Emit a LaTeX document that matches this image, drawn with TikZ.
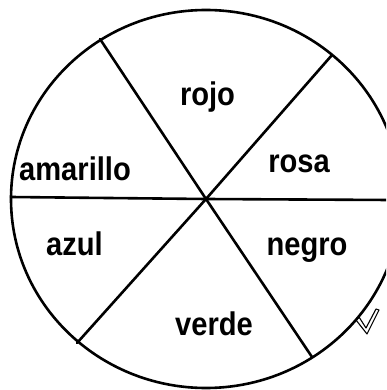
\documentclass[tikz,border=0pt]{standalone}
\usepackage{fontspec}
\usepackage{graphicx}
\setmainfont{Liberation Sans}
\newcommand{\tallword}[1]{\scalebox{1.04}[1.17]{#1}}
\tikzset{
  stroke/.style={line width=2.6pt, line cap=round},
  lbl/.style={anchor=base, inner sep=0pt, font=\fontsize{28}{28}\selectfont\bfseries},
  tick/.style={line width=1.1pt, line join=round}
}
\begin{document}
\begin{tikzpicture}[x=1pt,y=-1pt]
\useasboundingbox (0,0) rectangle (386,390);
\clip (0,0) rectangle (386,390);
\coordinate (c) at (206,199);
\coordinate (ul) at (100,39);
\coordinate (lr) at (312,357);
\coordinate (ur) at (332,55);
\coordinate (ll) at (77,343);
\coordinate (hl) at (11,197);
\coordinate (hr) at (390,200);
\draw[stroke] (c) ellipse [x radius=195, y radius=189];
\draw[stroke] (ul) -- (c) -- (lr);
\draw[stroke] (ur) -- (c) -- (ll);
\draw[stroke] (hl) -- (c) -- (hr);
\node[lbl] (rojo) at (207.5,106) {\tallword{rojo}};
\node[lbl] (amarillo) at (75,180) {\tallword{amarillo}};
\node[lbl] (rosa) at (299,172) {\tallword{rosa}};
\node[lbl] (azul) at (74.5,255) {\tallword{azul}};
\node[lbl] (negro) at (307,255) {\tallword{negro}};
\node[lbl] (verde) at (214,335) {\tallword{verde}};
\draw[tick] (356,320) -- (367,334) -- (379,310) -- (376,309) -- (366,328) -- (359,317) -- cycle;
\end{tikzpicture}
\end{document}
